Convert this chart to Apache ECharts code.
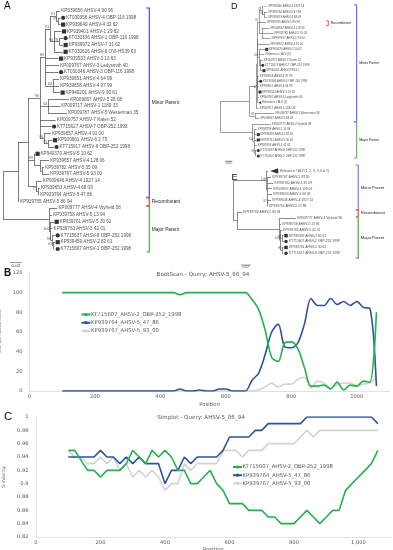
<!DOCTYPE html>
<html><head><meta charset="utf-8">
<script src="https://cdn.jsdelivr.net/npm/echarts@6/dist/echarts.min.js"></script>
<style>html,body{margin:0;padding:0;background:#fff}#c{width:393px;height:550px}</style>
</head><body><div id="c"></div>
<script>
// ---------------- DATA ----------------
const seriesNames = ['KT715607_AHSV-2_OBP-252_1998', 'KP939764_AHSV-5_47_86', 'KP939767_AHSV-5_93_00'];
const positions = [100,120,140,160,180,200,220,240,260,280,300,320,340,360,380,400,420,440,460,480,500,520,540,560,580,600,620,640,660,680,700,720,740,760,780,800,820,840,860,880,900,920,940,960,980,1000,1020,1040,1060];
// BootScan (% of permuted trees)
const bootKT715607 = [100,100,100,100,100,100,100,100,100,100,100,100,100,100,100,100,100,100,98,100,100,100,100,100,100,100,100,100,100,93,83,62,34,30,49,50,43,24,5,5,6,2,9,1,6,5,10,9,80];
const bootKP939764 = [0,0,0,0,0,0,0,0,0,0,0,0,0,0,0,0,0,0,2,0,0,1,0,0,2,2,0,0,0,11,18,37,60,68,45,44,49,68,94,87,87,94,88,91,87,91,85,84,5];
const bootKP939767 = [0,0,0,0,0,0,0,0,0,0,0,0,0,0,0,0,0,0,0,0,0,0,0,0,0,0,0,0,0,0,1,4,8,4,7,7,12,14,3,10,8,3,6,8,8,5,7,8,13];
// Simplot (similarity)
const simKT715607 = [0.95,0.95,0.935,0.92,0.92,0.91,0.92,0.92,0.92,0.93,0.95,0.94,0.93,0.95,0.94,0.95,0.94,0.92,0.92,0.90,0.90,0.91,0.92,0.90,0.89,0.87,0.87,0.87,0.86,0.86,0.86,0.85,0.85,0.84,0.84,0.84,0.85,0.86,0.85,0.84,0.85,0.86,0.86,0.89,0.90,0.91,0.92,0.93,0.95];
const simKP939764 = [0.94,0.94,0.94,0.94,0.94,0.95,0.94,0.94,0.93,0.94,0.93,0.94,0.93,0.93,0.93,0.90,0.92,0.92,0.94,0.93,0.94,0.94,0.94,0.94,0.95,0.97,0.97,0.97,0.97,0.98,0.98,0.99,0.99,0.99,0.99,0.99,0.99,1,1,1,1,1,1,1,1,1,1,1,0.99];
const simKP939767 = [0.95,0.94,0.94,0.93,0.93,0.94,0.93,0.94,0.92,0.93,0.91,0.92,0.91,0.92,0.91,0.89,0.90,0.90,0.93,0.92,0.93,0.93,0.93,0.93,0.95,0.95,0.95,0.94,0.95,0.95,0.95,0.96,0.96,0.96,0.96,0.96,0.97,0.98,0.97,0.98,0.98,0.98,0.98,0.98,0.98,0.98,0.98,0.98,0.98];
const bootTicksY = [0, 20, 40, 60, 80, 100, 120];
const simTicksY = [0.82, 0.84, 0.86, 0.88, 0.9, 0.92, 0.94, 0.96, 0.98, 1];

// Trees: branch lengths in 0.001 substitutions/site; bootstrap labels on nodes
function L(name, len, mark) { return { name, len, mark }; }
function N(len, bs, ...kids) { return { len, bs, kids }; }

const treeA = N(0, null,
  N(25.6, null,
    N(17.1, null,
      N(20.5, '90',
        N(8.6, '89',
          N(8.6, '91',
            N(10.3, '91',
              L('KP939656 AHSV-4 90 96', 6.8),
              N(3.4, '79',
                L('KT030356 AHSV-4 OBP-116 1998', 4.3, 'c'),
                L('KP939649 AHSV-4 32 62', 4.3, 's'))),
            N(6.8, '90',
              L('KP939401 AHSV-1 29 62', 12.8, 's'),
              N(8.6, '78',
                L('KT030336 AHSV-1 OBP-116 1998', 6.8, 'c'),
                L('KP939972 AHSV-7 31 62', 6.8, 's')),
              L('KT030626 AHSV-6 OVI-HS39 63', 15.4, 's'))),
          L('KP939533 AHSV-3 13 63', 23.1, 's'),
          L('KP009767 AHSV-3 Ladysmith 40', 23.9),
          L('KT030346 AHSV-3 OBP-116 1998', 23.1, 'c'),
          N(13.7, '64',
            L('KP939651 AHSV-4 64 99', 10.3),
            L('KP939658 AHSV-4 97 99', 10.3),
            L('KP940201 AHSV-9 90 61', 12.0, 's'))),
        N(13.7, '54',
          L('KP009667 AHSV-5 28 08', 35.9),
          L('KP009717 AHSV-1 1180 33', 20.5),
          L('KP009787 AHSV-5 Westerman 35', 32.5)),
        L('KP009757 AHSV-7 Karen 52', 26.8),
        L('KT715627 AHSV-7 OBP-252 1998', 19.7, 'c'),
        N(6.8, '76',
          L('KP939657 AHSV-4 91 00', 11.5),
          N(6.8, '75',
            L('KP939661 AHSV-6 2 75', 7.7, 's'),
            L('KT715617 AHSV-6 OBP-252 1998', 10.3, 'c')))),
      N(10.3, '99',
        L('KP940370 AHSV-5 10 62', 1.7, 's'),
        N(10.3, null,
          L('KP939657 AHSV-4 128 06', 15.4),
          N(3.4, null,
            L('KP939782 AHSV-5 35 09', 3.4),
            L('KP939767 AHSV-5 93 00', 12.0)))),
      N(13.7, null,
        L('KP939646 AHSV-4 1927 14', 9.7),
        N(3.4, '71',
          L('KP939653 AHSV-4 68 09', 2.9),
          L('KP939764 AHSV-5 47 86', 1.7)))),
    L('KP939765 AHSV-5 86 94', 1.7)),
  N(78.7, null,
    L('KP009777 AHSV-4 Vryheid 38', 14.2),
    L('KP939758 AHSV-5 13 94', 5.1),
    N(2.6, '100',
      L('KP939761 AHSV-5 30 62', 6.0, 's'),
      L('KP939763 AHSV-5 42 01', 3.1),
      N(2.6, '98',
        L('KT715637 AHSV-8 OBP-252 1998', 5.1, 'c'),
        N(2.6, '67',
          L('KP939459 AHSV-2 82 61', 2.6, 's'),
          L('KT715607 AHSV-2 OBP-252 1998', 2.6, 'c'))))));

const treeD = N(0, null,
  N(78.4, null,
    N(18.4, null,
      N(2.2, null,
        N(1.9, null,
          N(4.1, '60',
            N(8.2, '88',
              L('KP939646 AHSV-4 1927 14', 14.5),
              N(5.5, '98',
                L('KP939764 AHSV-5 47 86', 9.0),
                L('KP939653 AHSV-4 68 09', 9.0))),
            L('KP939765 AHSV-5 86 94', 19.2),
            N(8.2, null,
              L('KP009667 AHSV-4 128 06', 20.0),
              L('KP939782 AHSV-5 35 09', 31.0),
              L('KP939767 AHSV-5 93 00', 24.7))),
          L('KP939657 AHSV-4 91 00', 32.3),
          N(4.1, '100',
            L('KP940370 AHSV-5 10 62', 16.4, 's'),
            L('Reference / ALV (6)', 14.5),
            N(4.1, null,
              L('KP009757 AHSV-7 Karen 52', 6.0),
              L('KT715627 AHSV-7 OBP-252 1998', 1.4, 'c'),
              L('KP940201 AHSV-9 90 61', 4.9, 's')))),
        N(1.4, '57',
          L('KP939658 AHSV-4 97 99', 3.8),
          L('KT030346 AHSV-3 OBP-116 1998', 4.6, 'c'),
          L('KP939651 AHSV-4 64 99', 3.8),
          L('KP939533 AHSV-3 13 63', 2.7, 's'),
          L('KP009767 AHSV-3 Ladysmith 40', 3.8),
          L('Reference / ALV (1)', 1.8, 't'))),
      L('KP009717 AHSV-1 1180 33', 7.4)),
    N(15.6, '68',
      L('KP009787 AHSV-5 Westerman 36', 52.9),
      L('KP009667 AHSV-5 28 08', 11.8))),
  N(87.7, null,
    L('KP009777 AHSV-4 Vryheid 38', 50.1),
    N(3.6, '100',
      L('KP939758 AHSV-5 13 94', 7.4),
      L('KP939459 AHSV-2 82 61', 7.1, 's'),
      L('KP939761 AHSV-5 30 62', 7.1, 's'),
      L('KP939763 AHSV-5 42 01', 7.4),
      N(2.7, '99',
        L('KT715637 AHSV-8 OBP-252 1998', 4.4, 'c'),
        L('KT715607 AHSV-2 OBP-252 1998', 4.4, 'c')))));

const treeE = N(0, null,
  N(66.8, '100',
    L('Reference / ALV (1, 2, 3, 5, 6 & 7)', 3.0, 'T'),
    N(1.6, null,
      L('KP939767 AHSV-5 93 00', 7.0),
      L('KP939782 AHSV-5 35 09', 11.6),
      L('KP009657 AHSV-4 128 06', 9.0),
      L('KP939653 AHSV-4 68 09', 9.0),
      N(0.2, '87',
        L('KP939646 AHSV-4 1927 14', 6.8),
        L('KP939764 AHSV-5 47 86', 0.6)))),
  N(7.4, null,
    L('KP939765 AHSV-5 86 94', 10.0),
    N(85.0, null,
      L('KP009777 AHSV-4 Vryheid 38', 33.0),
      L('KP939758 AHSV-5 13 94', 3.0),
      N(2.0, '100',
        L('KP939763 AHSV-5 42 01', 3.0),
        N(3.0, '98',
          L('KP939459 AHSV-2 82 61', 3.0, 's'),
          L('KT715607 AHSV-2 OBP-252 1998', 3.0, 'c')),
        N(3.0, '96',
          L('KP939761 AHSV-5 30 62', 3.0, 's'),
          L('KT715637 AHSV-8 OBP-252 1998', 3.0, 'c'))))));

// clade brackets as leaf-index ranges
const bracketsA = [
  { from: -0.45, to: 27.4, color: '#3a3aff', label: 'Minor Parent' },
  { from: 27.5, to: 28.65, color: '#ff2b2b', label: 'Recombinant' },
  { from: 28.75, to: 35.45, color: '#3ea63e', label: 'Major Parent' }
];
const bracketsD = [
  { from: -0.35, to: 21.6, color: '#5050ff', label: 'Minor Parent' },
  { from: 21.6, to: 28.4, color: '#4aaa4a', label: 'Major Parent' }
];
const bracketsDrec = [{ from: 2.65, to: 3.55, color: '#ff3030', label: 'Recombinant' }];
const bracketsE = [
  { from: -1.0, to: 6.6, color: '#8c8cff', label: 'Minor Parent' },
  { from: 6.6, to: 7.8, color: '#ff5a5a', label: 'Recombinant' },
  { from: 7.8, to: 14.8, color: '#60b860', label: 'Major Parent' }
];

// ---------------- BUILD ----------------
const TF = 'Liberation Sans, Arial, sans-serif';
const CF = 'DejaVu Sans, sans-serif';

function layoutTree(root) {
  const leaves = [], nodes = [], segs = [];
  (function walk(nd, px) {
    nd.x = px + nd.len;
    if (nd.kids) {
      nd.kids.forEach(k => walk(k, nd.x));
      const f = nd.kids[0], l = nd.kids[nd.kids.length - 1];
      nd.y = (f.y + l.y) / 2;
      segs.push([[nd.x, f.y], [nd.x, l.y]]);
      nd.kids.forEach(k => segs.push([[nd.x, k.y], [k.x, k.y]]));
      nodes.push(nd);
    } else { nd.y = leaves.length; leaves.push(nd); }
  })(root, 0);
  return { leaves, nodes, segs };
}

const panels = [
  { tree: treeA, left: 3, top: 11, ppu: 0.585, row: 6.8, font: 4.6, bsFont: 4, mSize: 4.2, mOff: 2.6, gapM: 5.0, gap: 0.7, lw: 0.8,
    brackets: [{ x: 149.3, tick: 3, lw: 1.1, font: 4.8, items: bracketsA }], scale: { x0: 12, y: 37.0, font: 4.4 } },
  { tree: treeD, left: 220.7, top: 6.7, ppu: 0.365, row: 5.33, font: 2.9, bsFont: 2.6, mSize: 3.0, mOff: 1.7, gapM: 3.4, gap: 0.6, lw: 0.6,
    brackets: [{ x: 356.7, tick: 2.5, lw: 1, font: 3.5, items: bracketsD }, { x: 328.3, tick: 2, lw: 0.9, font: 3.4, items: bracketsDrec }], scale: { x0: 12, y: 29.0, font: 3 } },
  { tree: treeE, left: 233.3, top: 171, ppu: 0.5, row: 5.88, font: 3.3, bsFont: 2.9, mSize: 3.5, mOff: 2.5, gapM: 5.0, gap: 0.7, lw: 0.7,
    brackets: [{ x: 358.3, tick: 2.5, lw: 1.4, font: 4.1, items: bracketsE }], scale: { x0: 15, y: 16.0, font: 3.3 } }
];

const grids = [], xAxes = [], yAxes = [], series = [];

panels.forEach((p, gi) => {
  const lay = layoutTree(p.tree);
  const n = lay.leaves.length;
  grids.push({ left: p.left, top: p.top, width: 200 * p.ppu, height: (n - 1) * p.row, containLabel: false, outerBoundsMode: 'none' });
  xAxes.push({ gridIndex: gi, type: 'value', min: 0, max: 200, show: false });
  yAxes.push({ gridIndex: gi, type: 'value', min: 0, max: n - 1, inverse: true, show: false });
  series.push({
    type: 'lines', coordinateSystem: 'cartesian2d', xAxisIndex: gi, yAxisIndex: gi, silent: true,
    lineStyle: { color: '#5c5c5c', width: p.lw, opacity: 1 },
    data: lay.segs.map(s => ({ coords: s }))
  });
  series.push({
    type: 'scatter', xAxisIndex: gi, yAxisIndex: gi, silent: true, symbol: 'circle', symbolSize: 1,
    itemStyle: { color: 'transparent' },
    label: { show: true, position: 'right', formatter: '{b}', fontSize: p.font, color: '#1e1e1e', fontFamily: TF },
    data: lay.leaves.map(l => ({
      value: [l.x, l.y], name: l.name,
      label: { distance: l.mark === 'T' ? p.gapM * 2.2 : (l.mark ? p.gapM : p.gap) }
    }))
  });
  series.push({
    type: 'scatter', xAxisIndex: gi, yAxisIndex: gi, silent: true,
    itemStyle: { color: '#000' },
    data: lay.leaves.filter(l => l.mark).map(l => {
      if (l.mark === 'T') return { value: [l.x, l.y], symbol: 'triangle', symbolSize: [5.5, 8], symbolRotate: 90, symbolOffset: [p.mOff * 2.4, 0] };
      if (l.mark === 't') return { value: [l.x, l.y], symbol: 'triangle', symbolSize: [2.6, 3], symbolRotate: 90, symbolOffset: [p.mOff, 0] };
      return { value: [l.x, l.y], symbol: l.mark === 'c' ? 'circle' : 'rect', symbolSize: p.mSize, symbolOffset: [p.mOff, 0] };
    })
  });
  series.push({
    type: 'scatter', xAxisIndex: gi, yAxisIndex: gi, silent: true, symbol: 'circle', symbolSize: 1,
    itemStyle: { color: 'transparent' },
    label: { show: true, position: 'left', distance: 0.3, offset: [0, -p.row * 0.3], formatter: '{b}', fontSize: p.bsFont, color: '#333', fontFamily: TF },
    data: lay.nodes.filter(nd => nd.bs).map(nd => ({ value: [nd.x, nd.y], name: nd.bs }))
  });
  p.brackets.forEach(br => {
    series.push({
      type: 'custom', coordinateSystem: 'cartesian2d', xAxisIndex: gi, yAxisIndex: gi, silent: true,
      data: br.items.map(b => [b.from, b.to]),
      renderItem(params, api) {
        const b = br.items[params.dataIndex];
        const y0 = api.coord([0, api.value(0)])[1], y1 = api.coord([0, api.value(1)])[1];
        return { type: 'group', children: [
          { type: 'polyline', shape: { points: [[br.x - br.tick, y0], [br.x, y0], [br.x, y1], [br.x - br.tick, y1]] }, style: { stroke: b.color, lineWidth: br.lw, fill: 'none' } },
          { type: 'text', x: br.x + 2.5, y: (y0 + y1) / 2, style: { text: b.label, fontSize: br.font, fill: '#1e1e1e', align: 'left', verticalAlign: 'middle', fontFamily: TF } }
        ] };
      }
    });
  });
  // scale bar (0.02 = 20 units)
  series.push({
    type: 'custom', coordinateSystem: 'cartesian2d', xAxisIndex: gi, yAxisIndex: gi, silent: true,
    data: [[p.scale.x0, p.scale.x0 + 20, p.scale.y]],
    renderItem(params, api) {
      const a = api.coord([api.value(0), api.value(2)]), b = api.coord([api.value(1), api.value(2)]);
      return { type: 'group', children: [
        { type: 'line', shape: { x1: a[0], y1: a[1], x2: b[0], y2: b[1] }, style: { stroke: '#444', lineWidth: 0.6 } },
        { type: 'text', x: (a[0] + b[0]) / 2, y: a[1] + 0.8, style: { text: '0.02', fontSize: p.scale.font, fill: '#333', align: 'center', verticalAlign: 'top', fontFamily: TF } }
      ] };
    }
  });
});

// ---- line charts B (gi 3) and C (gi 4)
const colors = ['#22b24c', '#2f539b', '#d3d3d3'];
grids.push({ left: 29.5, top: 273, width: 360, height: 118, containLabel: false, outerBoundsMode: 'none' });
grids.push({ left: 36, top: 417, width: 354.75, height: 120, containLabel: false, outerBoundsMode: 'none' });
const axisCommon = {
  axisLine: { show: true, lineStyle: { color: '#d9d9d9', width: 0.8 } },
  axisTick: { show: false }, splitLine: { show: false }
};
xAxes.push(Object.assign({ gridIndex: 3, type: 'value', min: 0, max: 1100, interval: 200, name: 'Position', nameLocation: 'middle', nameGap: 11,
  nameTextStyle: { fontSize: 5.3, color: '#595959', fontFamily: CF },
  axisLabel: { fontSize: 5.2, color: '#595959', margin: 3, showMaxLabel: false, fontFamily: CF, formatter: v => String(v) } }, axisCommon));
yAxes.push(Object.assign({ gridIndex: 3, type: 'value', min: bootTicksY[0], max: bootTicksY[bootTicksY.length - 1], interval: 20,
  name: '% of permuted trees', nameLocation: 'middle', nameGap: 21, nameTextStyle: { fontSize: 4.3, color: '#595959', fontFamily: CF },
  axisLabel: { fontSize: 5.2, color: '#595959', margin: 7, fontFamily: CF } }, axisCommon));
xAxes.push(Object.assign({ gridIndex: 4, type: 'value', min: 0, max: 1100, interval: 200, name: 'Position', nameLocation: 'middle', nameGap: 10,
  nameTextStyle: { fontSize: 5.3, color: '#595959', fontFamily: CF },
  axisLabel: { fontSize: 5.2, color: '#595959', margin: 3, showMaxLabel: false, fontFamily: CF, formatter: v => Number(v).toLocaleString('en-US') } }, axisCommon));
yAxes.push(Object.assign({ gridIndex: 4, type: 'value', min: simTicksY[0], max: simTicksY[simTicksY.length - 1], interval: 0.02,
  name: 'Similarity', nameLocation: 'middle', nameGap: 26, nameTextStyle: { fontSize: 4.5, color: '#595959', fontFamily: CF },
  axisLabel: { fontSize: 5.2, color: '#595959', margin: 7.5, fontFamily: CF, formatter: v => String(+(+v).toFixed(2)) } }, axisCommon));

[bootKT715607, bootKP939764, bootKP939767].forEach((arr, i) => {
  series.push({ type: 'line', name: seriesNames[i], xAxisIndex: 3, yAxisIndex: 3, symbol: 'none', smooth: 0.3, z: 5 - i,
    lineStyle: { color: colors[i], width: 1.6 }, itemStyle: { color: colors[i] },
    data: positions.map((p, k) => [p, arr[k]]) });
});
[simKT715607, simKP939764, simKP939767].forEach((arr, i) => {
  series.push({ type: 'line', name: seriesNames[i], xAxisIndex: 4, yAxisIndex: 4, symbol: 'none', z: 5 - i,
    lineStyle: { color: colors[i], width: 1.6 }, itemStyle: { color: colors[i] },
    data: positions.map((p, k) => [p, arr[k]]) });
});

const legendCommon = { data: seriesNames, orient: 'vertical', itemWidth: 9, itemHeight: 4, itemGap: 2.2, padding: 0, selectedMode: false,
  textStyle: { fontSize: 5.3, color: '#595959', fontFamily: CF, lineHeight: 6, padding: [0, 0, 0, -4.5] } };

const titleStyle = (fs, fw) => ({ fontSize: fs, fontWeight: fw || 'normal', color: '#111', fontFamily: TF });
const option = {
  animation: false,
  backgroundColor: '#fff',
  title: [
    { text: 'A', left: 4, top: 1, padding: 0, textStyle: titleStyle(10) },
    { text: 'D', left: 231, top: 2.5, padding: 0, textStyle: titleStyle(9) },
    { text: 'E', left: 231.5, top: 173, padding: 0, textStyle: titleStyle(9) },
    { text: 'B', left: 4, top: 268.5, padding: 0, textStyle: titleStyle(10, 'bold') },
    { text: 'C', left: 4, top: 411, padding: 0, textStyle: titleStyle(11.5) },
    { text: 'BootScan - Query: AHSV-5_86_94', left: 203, top: 272, padding: 0, textAlign: 'center', textStyle: { fontSize: 5.6, fontWeight: 'normal', color: '#595959', fontFamily: CF } },
    { text: 'Simplot - Query: AHSV-5_86_94', left: 201, top: 415, padding: 0, textAlign: 'center', textStyle: { fontSize: 5.6, fontWeight: 'normal', color: '#595959', fontFamily: CF } }
  ],
  legend: [
    Object.assign({ left: 80.5, top: 311.5 }, legendCommon),
    Object.assign({ left: 232, top: 464 }, legendCommon)
  ],
  grid: grids, xAxis: xAxes, yAxis: yAxes, series
};
const chart = echarts.init(document.getElementById('c'), null, { renderer: 'canvas' });
chart.setOption(option);
</script></body></html>
